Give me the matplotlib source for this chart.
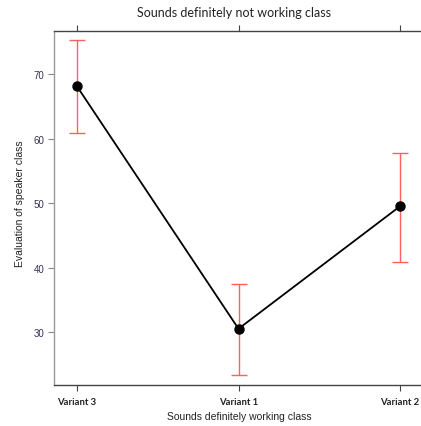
import matplotlib
matplotlib.use("Agg")
import matplotlib.pyplot as plt

categories = ["Variant 3", "Variant 1", "Variant 2"]
means = [68.1, 30.5, 49.5]
upper = [75.3, 37.4, 57.7]
lower = [60.9, 23.3, 40.9]

fig = plt.figure(figsize=(4.21, 4.27), dpi=100)
ax = fig.add_axes([54/421, (427-385.5)/427, (423-54)/421, (385.5-32)/427])

x = list(range(1, len(categories) + 1))
yerr = [[m - l for m, l in zip(means, lower)], [u - m for m, u in zip(means, upper)]]
ax.errorbar(x, means, yerr=yerr, fmt="none", ecolor="#ff6060", elinewidth=1.0,
            capsize=6, capthick=1.0, zorder=2)
ax.plot(x, means, color="black", linewidth=1.3, marker="o", markersize=6.5, zorder=3)

ax.set_xlim(0.858, 3.142)
ax.set_ylim(21.86, 76.67)
ax.set_yticks([30, 40, 50, 60, 70])
ax.set_xticks(x)
ax.set_xticklabels(categories, fontfamily="Lato", fontweight="bold", fontsize=6.8, color="#222222")
for lab in ax.get_yticklabels():
    lab.set_fontfamily("Liberation Sans")
    lab.set_fontsize(7)
    lab.set_color("#333355")

ax.tick_params(axis="x", which="both", top=True, direction="out", length=4, width=0.8,
               color="#444444", pad=5)
ax.tick_params(axis="y", direction="out", length=4, width=0.8, color="#888888", pad=3)

ax.spines["right"].set_visible(False)
ax.spines["top"].set_color("#444444")
ax.spines["bottom"].set_color("#444444")
ax.spines["left"].set_color("#999999")
for s in ["top", "bottom", "left"]:
    ax.spines[s].set_linewidth(1.0)

fig.text(234/421, 1 - 13/427, "Sounds definitely not working class", ha="center", va="center",
         fontfamily="Lato", fontsize=9, color="#222222")
fig.text(239/421, 1 - 417/427, "Sounds definitely working class", ha="center", va="center",
         fontfamily="Liberation Sans", fontsize=7.5, color="#222222")
fig.text(20/421, 1 - 204/427, "Evaluation of speaker class", ha="center", va="center",
         rotation=90, fontfamily="Liberation Sans", fontsize=7.5, color="#222222")

fig.savefig("out.png", dpi=100)
